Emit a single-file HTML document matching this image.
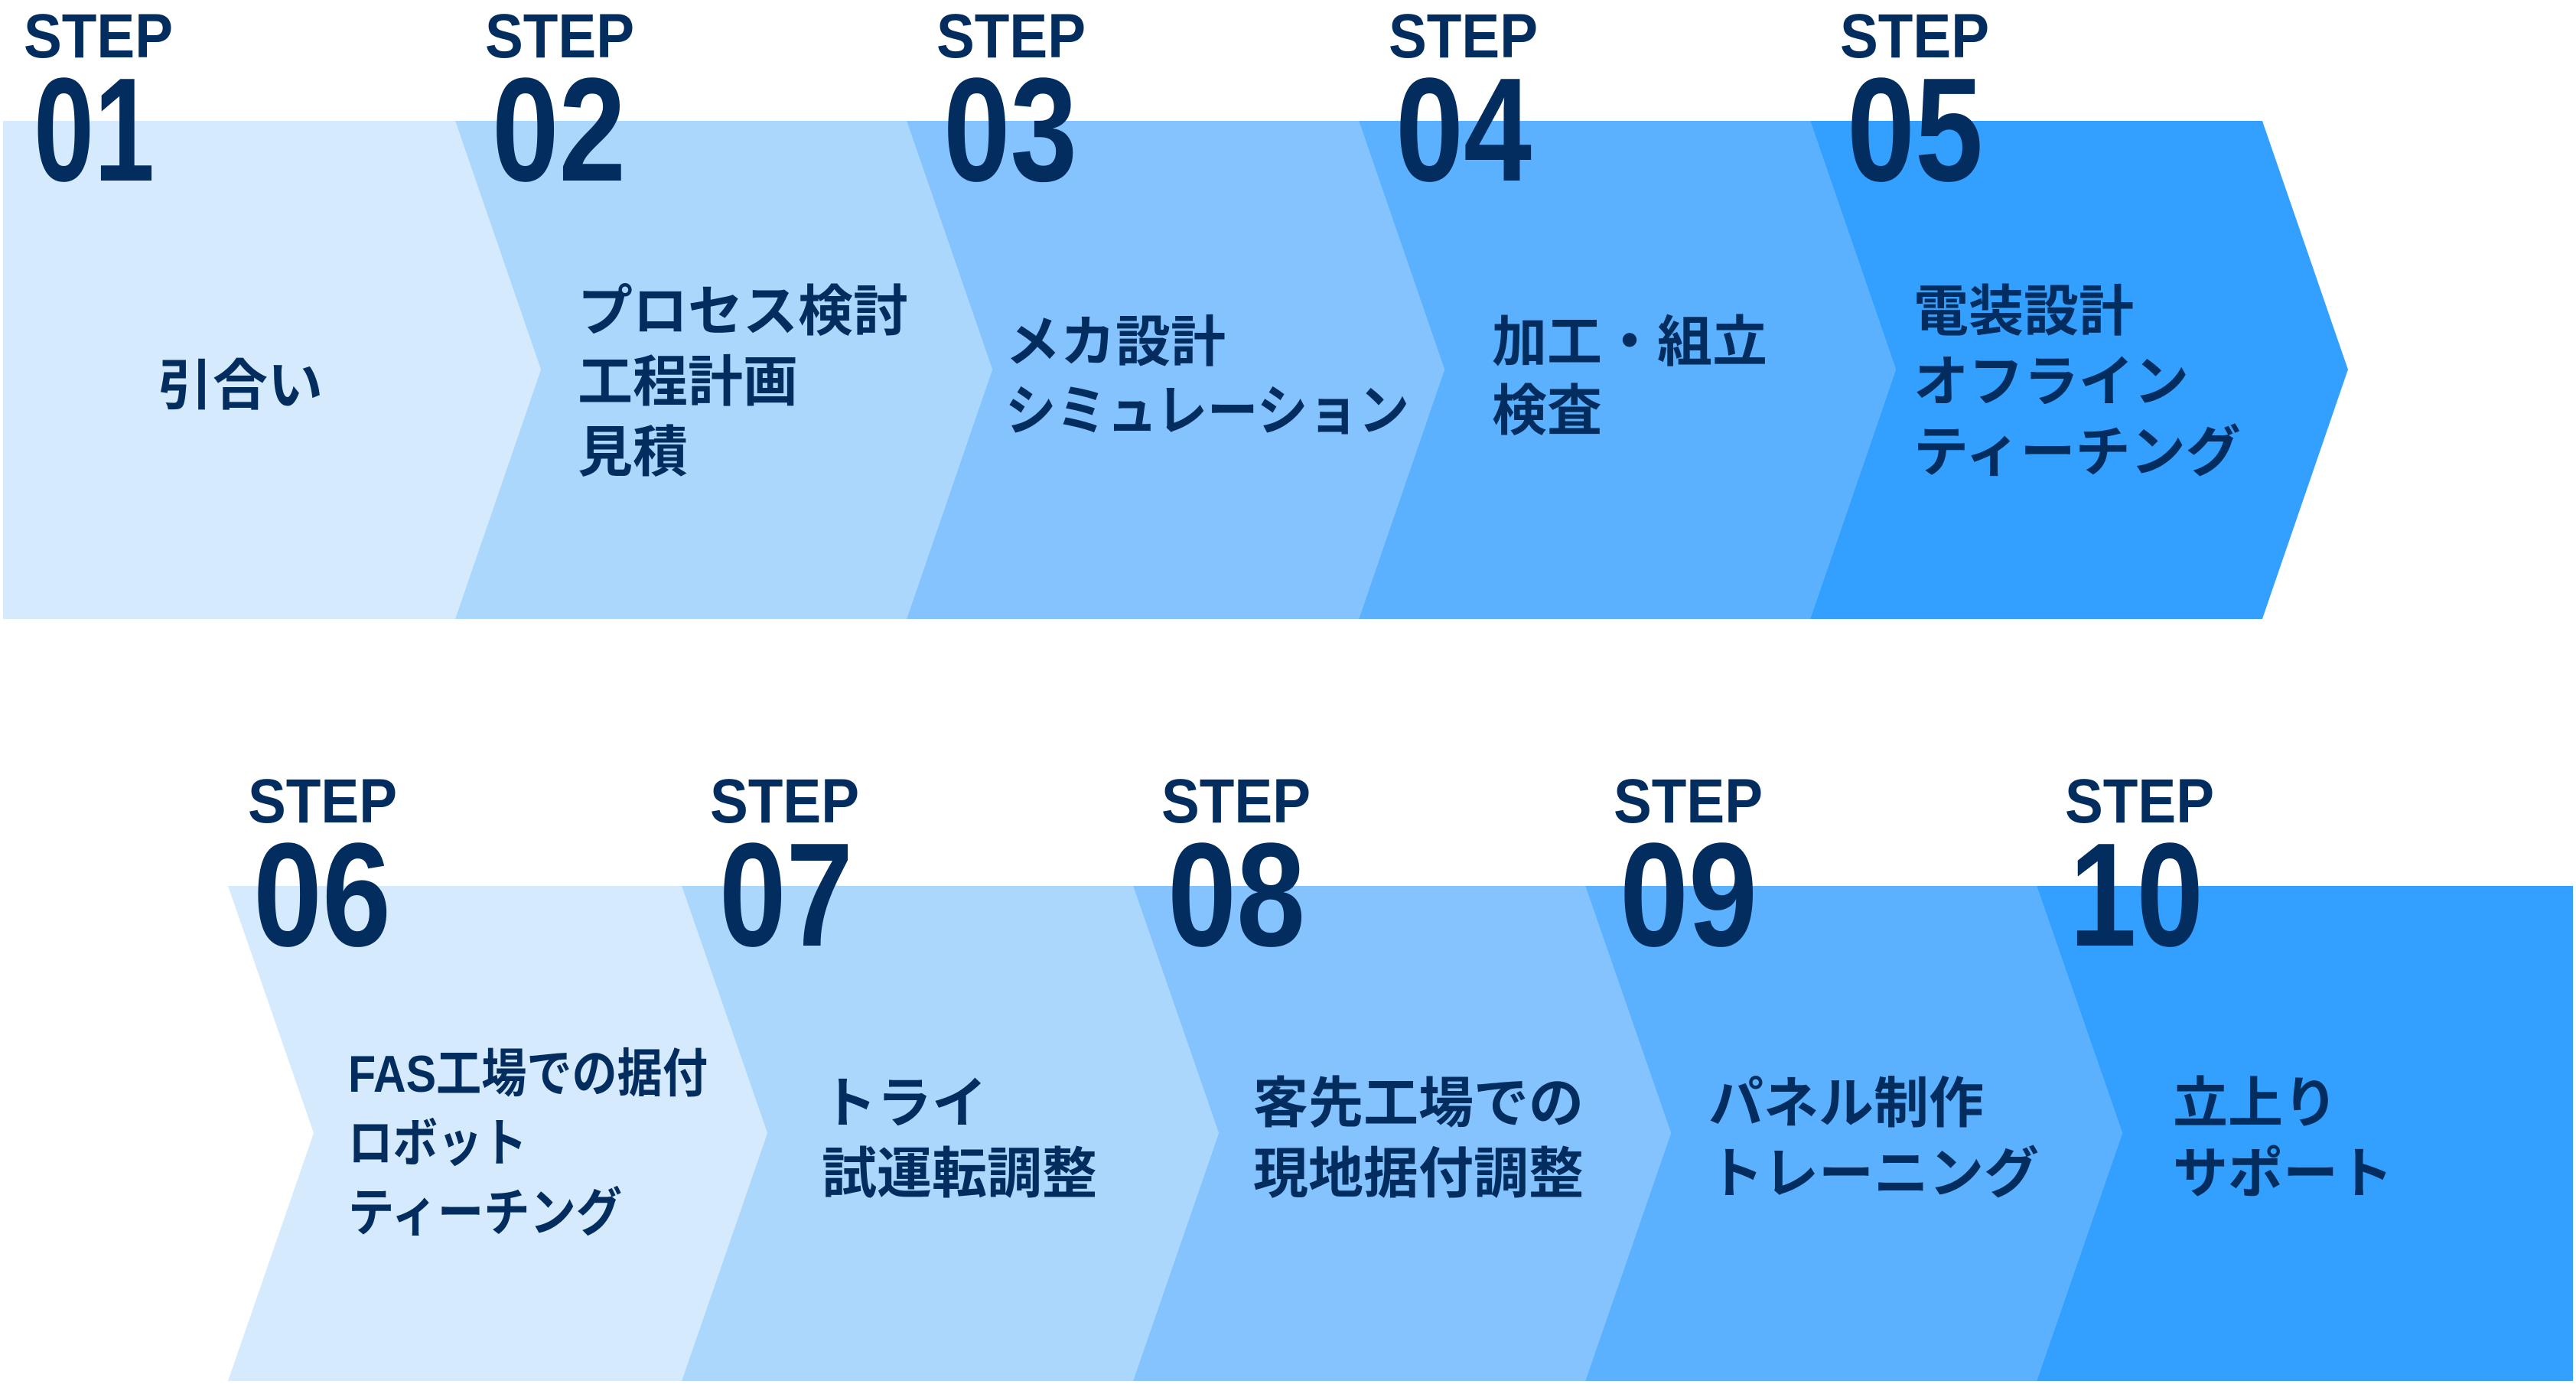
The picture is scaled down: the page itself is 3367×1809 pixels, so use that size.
<!DOCTYPE html>
<html><head><meta charset="utf-8"><style>
html,body{margin:0;padding:0;background:#fff;}
svg{display:block}
.s{font-family:"Liberation Sans",sans-serif;font-weight:bold;fill:#022d5e;}
.t{font-family:"Liberation Sans","Noto Sans CJK JP",sans-serif;font-weight:bold;fill:#022d5e;font-size:72px;}
</style></head><body>
<svg width="3367" height="1809" viewBox="0 0 3367 1809" xmlns="http://www.w3.org/2000/svg">
<polygon points="4,158 595,158 707,483 595,809 4,809" fill="#d6eafd"/>
<polygon points="595,158 1185,158 1297,483 1185,809 595,809 707,483" fill="#acd7fd"/>
<polygon points="1185,158 1776,158 1888,483 1776,809 1185,809 1297,483" fill="#84c3fd"/>
<polygon points="1776,158 2366,158 2478,483 2366,809 1776,809 1888,483" fill="#5bb1fe"/>
<polygon points="2366,158 2957,158 3069,483 2957,809 2366,809 2478,483" fill="#339ffe"/>
<polygon points="298,1158 891,1158 1003,1481 891,1805 298,1805 410,1481" fill="#d6eafd"/>
<polygon points="891,1158 1481,1158 1593,1481 1481,1805 891,1805 1003,1481" fill="#acd7fd"/>
<polygon points="1481,1158 2072,1158 2184,1481 2072,1805 1481,1805 1593,1481" fill="#84c3fd"/>
<polygon points="2072,1158 2662,1158 2774,1481 2662,1805 2072,1805 2184,1481" fill="#5bb1fe"/>
<polygon points="2662,1158 3363,1158 3363,1805 2662,1805 2774,1481" fill="#339ffe"/>

<g class="s">
<text x="31" y="75" font-size="82" textLength="195" lengthAdjust="spacingAndGlyphs">STEP</text>
<text x="44" y="236" font-size="193" textLength="158" lengthAdjust="spacingAndGlyphs">01</text>
<text x="634" y="75" font-size="82" textLength="195" lengthAdjust="spacingAndGlyphs">STEP</text>
<text x="643" y="236" font-size="193" textLength="175" lengthAdjust="spacingAndGlyphs">02</text>
<text x="1224" y="75" font-size="82" textLength="195" lengthAdjust="spacingAndGlyphs">STEP</text>
<text x="1233" y="236" font-size="193" textLength="175" lengthAdjust="spacingAndGlyphs">03</text>
<text x="1815" y="75" font-size="82" textLength="195" lengthAdjust="spacingAndGlyphs">STEP</text>
<text x="1824" y="236" font-size="193" textLength="178" lengthAdjust="spacingAndGlyphs">04</text>
<text x="2405" y="75" font-size="82" textLength="195" lengthAdjust="spacingAndGlyphs">STEP</text>
<text x="2414" y="236" font-size="193" textLength="178" lengthAdjust="spacingAndGlyphs">05</text>
<text x="324" y="1075" font-size="82" textLength="195" lengthAdjust="spacingAndGlyphs">STEP</text>
<text x="331" y="1236" font-size="193" textLength="180" lengthAdjust="spacingAndGlyphs">06</text>
<text x="928" y="1075" font-size="82" textLength="195" lengthAdjust="spacingAndGlyphs">STEP</text>
<text x="940" y="1236" font-size="193" textLength="175" lengthAdjust="spacingAndGlyphs">07</text>
<text x="1518" y="1075" font-size="82" textLength="195" lengthAdjust="spacingAndGlyphs">STEP</text>
<text x="1526" y="1236" font-size="193" textLength="180" lengthAdjust="spacingAndGlyphs">08</text>
<text x="2109" y="1075" font-size="82" textLength="195" lengthAdjust="spacingAndGlyphs">STEP</text>
<text x="2117" y="1236" font-size="193" textLength="180" lengthAdjust="spacingAndGlyphs">09</text>
<text x="2699" y="1075" font-size="82" textLength="195" lengthAdjust="spacingAndGlyphs">STEP</text>
<text x="2705" y="1236" font-size="193" textLength="175" lengthAdjust="spacingAndGlyphs">10</text>
</g>

<g class="t" dominant-baseline="central">
<text x="206" y="505">引合い</text>

<text x="755" y="408">プロセス検討</text>
<text x="755" y="500">工程計画</text>
<text x="755" y="592">見積</text>

<text x="1314" y="448">メカ設計</text>
<text x="1314" y="538" textLength="528" lengthAdjust="spacingAndGlyphs">シミュレーション</text>

<text x="1950" y="448">加工・組立</text>
<text x="1950" y="538">検査</text>

<text x="2501" y="408">電装設計</text>
<text x="2501" y="500">オフライン</text>
<text x="2501" y="592">ティーチング</text>

<text x="455" y="1404" font-size="68" textLength="470" lengthAdjust="spacingAndGlyphs">FAS工場での据付</text>
<text x="455" y="1495" font-size="68" textLength="234" lengthAdjust="spacingAndGlyphs">ロボット</text>
<text x="455" y="1586" font-size="68" textLength="358" lengthAdjust="spacingAndGlyphs">ティーチング</text>

<text x="1074" y="1443">トライ</text>
<text x="1074" y="1535">試運転調整</text>

<text x="1638" y="1443">客先工場での</text>
<text x="1638" y="1535">現地据付調整</text>

<text x="2233" y="1443">パネル制作</text>
<text x="2233" y="1535">トレーニング</text>

<text x="2840" y="1443">立上り</text>
<text x="2840" y="1535">サポート</text>
</g>
</svg>
</body></html>
